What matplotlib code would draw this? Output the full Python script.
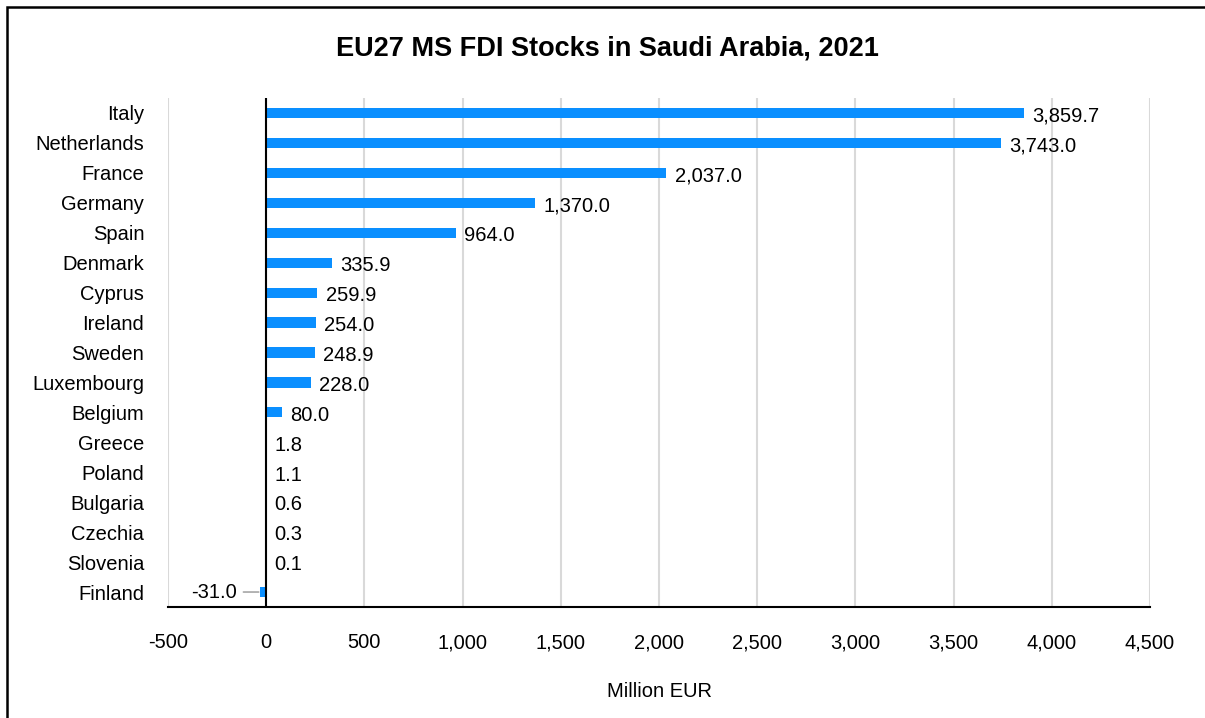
import matplotlib.pyplot as plt
from matplotlib.patches import Rectangle

countries = [
    "Italy", "Netherlands", "France", "Germany", "Spain", "Denmark", "Cyprus",
    "Ireland", "Sweden", "Luxembourg", "Belgium", "Greece", "Poland",
    "Bulgaria", "Czechia", "Slovenia", "Finland",
]
values = [
    3859.7, 3743.0, 2037.0, 1370.0, 964.0, 335.9, 259.9,
    254.0, 248.9, 228.0, 80.0, 1.8, 1.1,
    0.6, 0.3, 0.1, -31.0,
]
x_ticks = [-500, 0, 500, 1000, 1500, 2000, 2500, 3000, 3500, 4000, 4500]

BAR_COLOR = "#0A8FFF"
FS = 14.5
plt.rcParams["font.family"] = ["Liberation Sans", "DejaVu Sans"]

fig = plt.figure(figsize=(12.05, 7.18), dpi=100)
ax = fig.add_axes([0.1394, 0.1546, 0.8150, 0.7089])

# outer frame of the chart (only top/left edges visible in the reference)
fig.patches.append(Rectangle((0.006, -0.05), 1.1, 1.04, transform=fig.transFigure,
                             fill=False, edgecolor="black", linewidth=1.8))

pos = list(range(len(countries)))
ax.barh(pos, values, height=0.34, color=BAR_COLOR, zorder=3)

ax.set_ylim(len(countries) - 0.5, -0.5)
ax.set_xlim(x_ticks[0], x_ticks[-1])
ax.set_xticks(x_ticks)
ax.set_xticklabels([f"{t:,}" for t in x_ticks], fontsize=FS)
ax.set_yticks(pos)
ax.set_yticklabels(countries, fontsize=FS)
ax.tick_params(axis="both", length=0)
ax.tick_params(axis="x", pad=19)
ax.tick_params(axis="y", pad=17)

for s in ["top", "right", "left"]:
    ax.spines[s].set_visible(False)
ax.spines["bottom"].set_linewidth(1.5)
ax.grid(axis="x", color="#D9D9D9", linewidth=1.5, zorder=0)
ax.axvline(0, color="black", linewidth=1.5, zorder=4)

for y, v in zip(pos, values):
    label = f"{v:,.1f}"
    if v < 0:
        # label pushed left of the small negative bar, with a grey leader line
        ax.annotate(label, xy=(v, y), xytext=(-17, 0), textcoords="offset points",
                    ha="right", va="center", fontsize=FS,
                    arrowprops=dict(arrowstyle="-", color="#A6A6A6", lw=1.2,
                                    shrinkA=3, shrinkB=1))
    else:
        ax.annotate(label, xy=(v, y), xytext=(6, -2), textcoords="offset points",
                    ha="left", va="center", fontsize=FS)

ax.set_xlabel("Million EUR", fontsize=FS, labelpad=21)
fig.text(0.504, 0.933, "EU27 MS FDI Stocks in Saudi Arabia, 2021",
         ha="center", va="center", fontsize=19.5, fontweight="bold")

fig.savefig("out.png", dpi=100)
